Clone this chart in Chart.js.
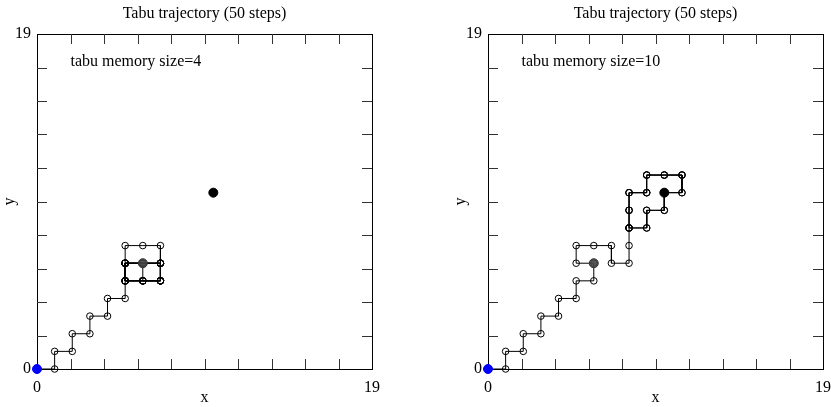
<!DOCTYPE html>
<html>
<head>
<meta charset="utf-8">
<title>Tabu trajectory</title>
<script src="https://cdn.jsdelivr.net/npm/chart.js@4.4.1/dist/chart.umd.min.js"></script>
<style>
  html, body { margin: 0; padding: 0; background: #fff; }
  #wrap { position: relative; width: 831px; height: 407px; overflow: hidden; }
  canvas { position: absolute; top: 0; }
  #left { left: 0; }
  #right { left: 451px; }
</style>
</head>
<body>
<div id="wrap">
  <canvas id="left" width="420" height="407"></canvas>
  <canvas id="right" width="400" height="407"></canvas>
</div>
<script>
// lattice extent and axis ticks
const gridMax = 19;
const tickValues = [0, 1.9, 3.8, 5.7, 7.6, 9.5, 11.4, 13.3, 15.2, 17.1, 19];
const tickLabels = ['0', '', '', '', '', '', '', '', '', '', '19'];

// special sites
const startPoint = [0, 0];
const goalPoint = [10, 10];
const trapPoint = [6, 6];

// 50-step walk, tabu memory 4
const pathX4 = [0, 1, 1, 2, 2, 3, 3, 4, 4, 5, 5,
  5, 5, 6, 7, 7, 7, 6, 6, 5, 5,
  6, 7, 7, 6, 5, 5, 6, 7, 7, 6, 5, 5, 6, 7, 7, 6, 5, 5,
  6, 7, 7, 6, 5, 5, 6, 7, 7, 6, 5, 5];
const pathY4 = [0, 0, 1, 1, 2, 2, 3, 3, 4, 4, 5,
  6, 7, 7, 7, 6, 5, 5, 6, 6, 5,
  5, 5, 6, 6, 6, 5, 5, 5, 6, 6, 6, 5, 5, 5, 6, 6, 6, 5,
  5, 5, 6, 6, 6, 5, 5, 5, 6, 6, 6, 5];

// 50-step walk, tabu memory 10
const pathX10 = [0, 1, 1, 2, 2, 3, 3, 4, 4, 5, 5,
  6, 6, 5, 5, 6, 7, 7, 8, 8, 8,
  8, 8, 9, 9, 10, 11, 11, 10, 10, 9, 9, 8,
  8, 8, 9, 9, 10, 11, 11, 10, 10, 9, 9, 8,
  8, 8, 9, 9, 10, 11];
const pathY10 = [0, 0, 1, 1, 2, 2, 3, 3, 4, 4, 5,
  5, 6, 6, 7, 7, 7, 6, 6, 7, 8,
  9, 10, 10, 11, 11, 11, 10, 10, 9, 9, 8, 8,
  9, 10, 10, 11, 11, 11, 10, 10, 9, 9, 8, 8,
  9, 10, 10, 11, 11, 11];

Chart.defaults.font.family = '"Liberation Serif", "Times New Roman", serif';
Chart.defaults.font.size = 16;
Chart.defaults.color = '#000';

// break the walk into passes so that re-walked edges are stroked again
function splitIntoPasses(xs, ys) {
  const passes = [];
  let cur = [{ x: xs[0], y: ys[0] }];
  let seen = new Set();
  for (let i = 1; i < xs.length; i++) {
    const key = [xs[i - 1], ys[i - 1], xs[i], ys[i]].join(',');
    const rev = [xs[i], ys[i], xs[i - 1], ys[i - 1]].join(',');
    if (seen.has(key) || seen.has(rev)) {
      passes.push(cur);
      cur = [{ x: xs[i - 1], y: ys[i - 1] }];
      seen = new Set();
    }
    seen.add(key);
    cur.push({ x: xs[i], y: ys[i] });
  }
  passes.push(cur);
  return passes;
}

// inward tick marks on all four sides
const innerTicks = {
  id: 'innerTicks',
  beforeDatasetsDraw(chart, args, opts) {
    const { ctx, chartArea: a, scales: { x, y } } = chart;
    const len = opts.length;
    ctx.save();
    ctx.strokeStyle = opts.color;
    ctx.lineWidth = 1;
    ctx.beginPath();
    tickValues.slice(1, -1).forEach(v => {
      const px = Math.round(x.getPixelForValue(v)) + 0.5;
      ctx.moveTo(px, a.bottom); ctx.lineTo(px, a.bottom - len);
      ctx.moveTo(px, a.top); ctx.lineTo(px, a.top + len);
      const py = Math.round(y.getPixelForValue(v)) + 0.5;
      ctx.moveTo(a.left, py); ctx.lineTo(a.left + len, py);
      ctx.moveTo(a.right, py); ctx.lineTo(a.right - len, py);
    });
    ctx.stroke();
    ctx.restore();
  }
};

// text label placed in data coordinates
const noteLabel = {
  id: 'noteLabel',
  afterDatasetsDraw(chart, args, opts) {
    const { ctx, scales: { x, y } } = chart;
    ctx.save();
    ctx.font = '16px "Liberation Serif"';
    ctx.fillStyle = '#000';
    ctx.textBaseline = 'middle';
    ctx.fillText(opts.text, x.getPixelForValue(opts.x), y.getPixelForValue(opts.y));
    ctx.restore();
  }
};

function sideScale(position, size) {
  const isX = position === 'top';
  return {
    type: 'linear',
    position: position,
    min: 0,
    max: gridMax,
    ticks: { display: false },
    grid: { display: false, drawTicks: false },
    border: { display: true, color: '#000', width: 1 },
    afterFit: s => { if (isX) s.height = size; else s.width = size; }
  };
}

function mainScale(axis) {
  const isX = axis === 'x';
  return {
    type: 'linear',
    position: isX ? 'bottom' : 'left',
    min: 0,
    max: gridMax,
    afterBuildTicks: s => { s.ticks = tickValues.map(v => ({ value: v })); },
    ticks: {
      autoSkip: false,
      maxRotation: 0,
      padding: isX ? 9 : 6,
      callback: (v, i) => tickLabels[i]
    },
    grid: { display: false, drawTicks: false },
    border: { display: true, color: '#000', width: 1 },
    title: { display: true, text: axis, padding: 0 },
    afterFit: s => { if (isX) s.height = 38; else s.width = 37; }
  };
}

function makeChart(canvasId, xs, ys, note) {
  const canvas = document.getElementById(canvasId);
  const passes = splitIntoPasses(xs, ys);

  const datasets = [
    {
      data: [{ x: startPoint[0], y: startPoint[1] }],
      pointRadius: 4.5, pointBackgroundColor: '#0000ff', pointBorderColor: '#0000ff',
      showLine: false, clip: false
    },
    {
      data: [{ x: goalPoint[0], y: goalPoint[1] }],
      pointRadius: 4.5, pointBackgroundColor: '#000', pointBorderColor: '#000',
      showLine: false, clip: false
    },
    {
      data: [{ x: trapPoint[0], y: trapPoint[1] }],
      pointRadius: 4.5, pointBackgroundColor: 'rgba(70,70,70,0.9)', pointBorderColor: '#333',
      pointBorderWidth: 1, showLine: false, clip: false
    }
  ];

  passes.forEach(p => {
    datasets.push({
      data: p,
      showLine: true,
      borderColor: '#000',
      borderWidth: 1,
      pointRadius: 3.3,
      pointBorderWidth: 1,
      pointBorderColor: '#000',
      pointBackgroundColor: 'rgba(0,0,0,0)',
      tension: 0,
      clip: false
    });
  });

  return new Chart(canvas, {
    type: 'scatter',
    data: { datasets: datasets },
    options: {
      responsive: false,
      animation: false,
      events: [],
      layout: { padding: 0 },
      scales: {
        x: mainScale('x'),
        y: mainScale('y'),
        xTop: sideScale('top', 10),
        yRight: sideScale('right', canvas.width - 372)
      },
      plugins: {
        legend: { display: false },
        tooltip: { enabled: false },
        title: {
          display: true,
          fullSize: false,
          text: 'Tabu trajectory (50 steps)',
          font: { size: 16, weight: 'normal', lineHeight: 1.25 },
          padding: { top: 4, bottom: 0 }
        },
        innerTicks: { length: 10, color: '#333' },
        noteLabel: note
      }
    },
    plugins: [innerTicks, noteLabel]
  });
}

makeChart('left', pathX4, pathY4, { text: 'tabu memory size=4', x: 1.9, y: 17.45 });
makeChart('right', pathX10, pathY10, { text: 'tabu memory size=10', x: 1.9, y: 17.45 });
</script>
</body>
</html>
